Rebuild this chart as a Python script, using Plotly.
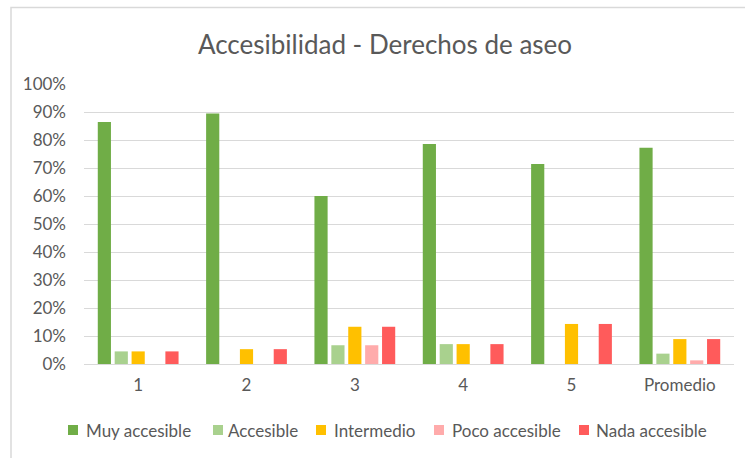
import plotly.graph_objects as go

categories = ["1", "2", "3", "4", "5", "Promedio"]
muy_accesible = [0.864, 0.895, 0.600, 0.786, 0.714, 0.772]
accesible = [0.045, 0.0, 0.067, 0.071, 0.0, 0.037]
intermedio = [0.045, 0.053, 0.133, 0.071, 0.143, 0.089]
poco_accesible = [0.0, 0.0, 0.067, 0.0, 0.0, 0.013]
nada_accesible = [0.045, 0.053, 0.133, 0.071, 0.143, 0.089]

series_names = ["Muy accesible", "Accesible", "Intermedio", "Poco accesible", "Nada accesible"]
series_values = [muy_accesible, accesible, intermedio, poco_accesible, nada_accesible]
series_colors = ["#70ad47", "#a9d18e", "#ffc000", "#ffabab", "#ff5b5b"]

FONT = "Lato"
TEXT = "#595959"
GRID = "#d9d9d9"

W, H = 745, 458
ml, mr, mt, mb = 84, 11, 84, 94
pw, ph = W - ml - mr, H - mt - mb


def px_x(x):
    """Page pixel x -> paper coordinate."""
    return (x - ml) / pw


def px_y(y):
    """Page pixel y (from top) -> paper coordinate."""
    return ((H - mb) - y) / ph


fig = go.Figure()
for name, vals, color in zip(series_names, series_values, series_colors):
    fig.add_trace(go.Bar(
        x=categories, y=vals, name=name,
        marker=dict(color=color, line=dict(width=0)),
        showlegend=False,
    ))

fig.update_layout(
    width=W, height=H,
    margin=dict(l=ml, r=mr, t=mt, b=mb),
    paper_bgcolor="white", plot_bgcolor="white",
    barmode="group", bargap=0.22, bargroupgap=0.22,
    font=dict(family=FONT, color=TEXT, size=17),
    title=dict(
        text="Accesibilidad - Derechos de aseo",
        font=dict(family=FONT, size=26, color=TEXT),
        x=px_x(385), xref="paper", xanchor="center",
        y=1 - 45 / H, yanchor="middle",
    ),
)

fig.update_xaxes(
    showgrid=False, showline=True, linecolor=GRID, linewidth=1,
    ticks="", tickfont=dict(family=FONT, size=17, color=TEXT),
    ticklabelstandoff=6,
)
fig.update_yaxes(
    range=[0, 1], dtick=0.1, tickformat=".0%",
    showgrid=True, gridcolor=GRID, gridwidth=1,
    zeroline=False, showline=False, ticks="",
    tickfont=dict(family=FONT, size=17, color=TEXT),
    ticklabelstandoff=17,
)

# legend row: coloured squares with their labels
legend_square_x = [68, 213, 316, 434, 579]
legend_text_x = [84, 226, 332, 450, 594]
legend_y = 430
for name, color, sx, tx in zip(series_names, series_colors, legend_square_x, legend_text_x):
    fig.add_shape(
        type="rect", xref="paper", yref="paper",
        x0=px_x(sx), x1=px_x(sx + 10), y0=px_y(legend_y + 5), y1=px_y(legend_y - 5),
        line=dict(width=0), fillcolor=color,
    )
    fig.add_annotation(
        text=name, xref="paper", yref="paper",
        x=px_x(tx), y=px_y(legend_y), xanchor="left", yanchor="middle",
        showarrow=False, font=dict(family=FONT, size=17, color=TEXT),
    )

# outer chart frame (partly beyond the page edges)
fig.add_shape(
    type="rect", xref="paper", yref="paper",
    x0=px_x(11), x1=1.2, y0=-1.0, y1=px_y(7.5),
    line=dict(color=GRID, width=1.5), fillcolor="rgba(0,0,0,0)", layer="below",
)

fig.write_html("out.html")
